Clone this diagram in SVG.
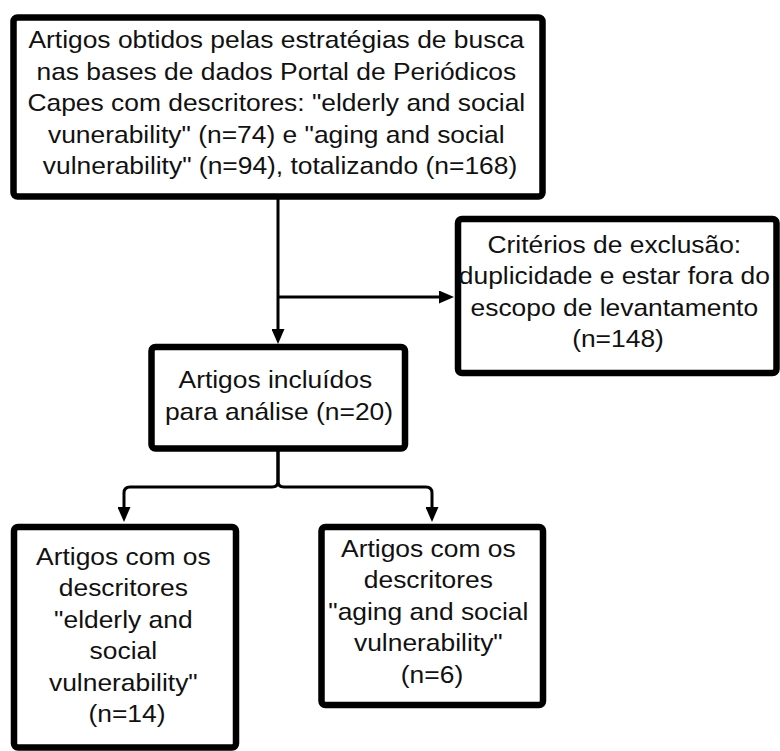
<svg xmlns="http://www.w3.org/2000/svg" width="780" height="751" viewBox="0 0 780 751">
<style>
.box{fill:#fff;stroke:#000;stroke-width:6.5}
.lbl{font-family:"Liberation Sans",Arial,sans-serif;font-size:24px;fill:#111;text-anchor:middle}
.con{fill:none;stroke:#000;stroke-width:3}
</style>
<defs>
<marker id="ah" markerUnits="userSpaceOnUse" markerWidth="15" markerHeight="13" refX="0" refY="6.5" orient="auto">
<path d="M0,0 L15,6.5 L0,13 z" fill="#000"/>
</marker>
</defs>
<rect width="780" height="751" fill="#fff"/>
<g id="connectors">
<path class="con" d="M278,199 V329" marker-end="url(#ah)"/>
<path class="con" d="M278,297 H439" marker-end="url(#ah)"/>
<path class="con" d="M278,451 V481 Q278,487 272,487 H130 Q124,487 124,493 V507" marker-end="url(#ah)"/>
<path class="con" d="M278,451 V481 Q278,487 284,487 H426 Q432,487 432,493 V507" marker-end="url(#ah)"/>
</g>
<g id="n1">
<rect class="box" x="13.5" y="17.5" width="529" height="179" rx="4"/>
<g transform="translate(280 0) scale(1.1 1)"><text class="lbl">
<tspan x="0" y="48.5">Artigos obtidos pelas estratégias de busca</tspan>
<tspan x="0" y="80">nas bases de dados Portal de Periódicos</tspan>
<tspan x="0" y="111.5">Capes com descritores: "elderly and social</tspan>
<tspan x="0" y="143">vunerability" (n=74) e "aging and social</tspan>
<tspan x="0" y="174.5">vulnerability" (n=94), totalizando (n=168)</tspan>
</text></g>
</g>
<g id="n2">
<rect class="box" x="458" y="219" width="318.5" height="154" rx="4"/>
<g transform="translate(618 0) scale(1.1 1)"><text class="lbl">
<tspan x="0" y="253">Critérios de exclusão:</tspan>
<tspan x="0" y="284.5">duplicidade e estar fora do</tspan>
<tspan x="0" y="316">escopo de levantamento</tspan>
<tspan x="0" y="347.5">(n=148)</tspan>
</text></g>
</g>
<g id="n3">
<rect class="box" x="151.5" y="347" width="253.5" height="101.5" rx="4"/>
<g transform="translate(279 0) scale(1.1 1)"><text class="lbl">
<tspan x="0" y="388.5">Artigos incluídos</tspan>
<tspan x="0" y="420">para análise (n=20)</tspan>
</text></g>
</g>
<g id="n4">
<rect class="box" x="14" y="527" width="222" height="220.5" rx="4"/>
<g transform="translate(127 0) scale(1.1 1)"><text class="lbl">
<tspan x="0" y="565">Artigos com os</tspan>
<tspan x="0" y="596.5">descritores</tspan>
<tspan x="0" y="628">"elderly and</tspan>
<tspan x="0" y="659.5">social</tspan>
<tspan x="0" y="691">vulnerability"</tspan>
<tspan x="0" y="722.5">(n=14)</tspan>
</text></g>
</g>
<g id="n5">
<rect class="box" x="321.5" y="527" width="221.5" height="178" rx="4"/>
<g transform="translate(432 0) scale(1.1 1)"><text class="lbl">
<tspan x="0" y="557">Artigos com os</tspan>
<tspan x="0" y="588.5">descritores</tspan>
<tspan x="0" y="620">"aging and social</tspan>
<tspan x="0" y="651.5">vulnerability"</tspan>
<tspan x="0" y="683">(n=6)</tspan>
</text></g>
</g>
</svg>
